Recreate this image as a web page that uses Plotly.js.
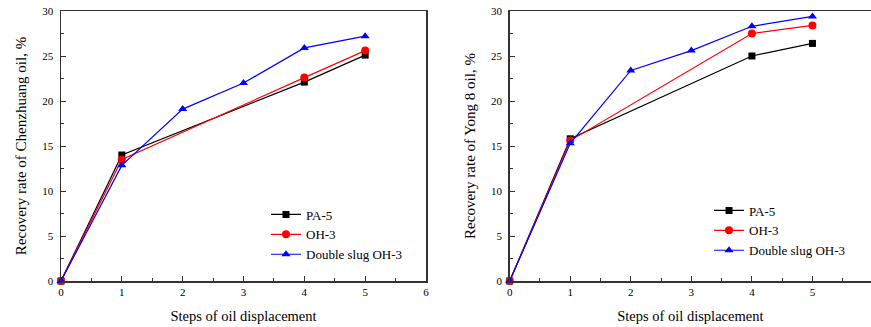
<!DOCTYPE html>
<html>
<head>
<meta charset="utf-8">
<script src="https://cdn.plot.ly/plotly-3.0.1.min.js"></script>
<style>html,body{margin:0;padding:0;background:#fff;}#chart{width:871px;height:327px;}</style>
</head>
<body>
<div id="chart"></div>
<script>
// Chenzhuang oil (left panel)
const stepsSparse = [0, 1, 4, 5];
const stepsFull = [0, 1, 2, 3, 4, 5];
const czPA5 = [0, 14.0, 22.1, 25.1];
const czOH3 = [0, 13.5, 22.6, 25.6];
const czDouble = [0, 12.85, 19.1, 22.0, 25.9, 27.2];
// Yong 8 oil (right panel)
const y8PA5 = [0, 15.8, 25.0, 26.4];
const y8OH3 = [0, 15.6, 27.5, 28.4];
const y8Double = [0, 15.3, 23.4, 25.6, 28.3, 29.4];
const seriesNames = ["PA-5", "OH-3", "Double slug OH-3"];
const xTicks = [0, 1, 2, 3, 4, 5, 6];
const yTicks = [0, 5, 10, 15, 20, 25, 30];

const colors = ["#000000", "#ff0000", "#0000ff"];
const symbols = ["square", "circle", "triangle-up"];
const sizes = [7, 8, 8];
const FONT = "Liberation Serif, Times New Roman, serif";

function mk(x, y, i, xa, ya, leg) {
  return {
    x: x, y: y, type: "scatter", mode: "lines+markers", name: seriesNames[i],
    xaxis: xa, yaxis: ya, legend: leg,
    line: {color: colors[i], width: 1.2},
    marker: {color: colors[i], symbol: symbols[i], size: sizes[i]},
    cliponaxis: false
  };
}

const data = [
  mk(stepsSparse, czPA5, 0, "x", "y", "legend"),
  mk(stepsSparse, czOH3, 1, "x", "y", "legend"),
  mk(stepsFull, czDouble, 2, "x", "y", "legend"),
  mk(stepsSparse, y8PA5, 0, "x2", "y2", "legend2"),
  mk(stepsSparse, y8OH3, 1, "x2", "y2", "legend2"),
  mk(stepsFull, y8Double, 2, "x2", "y2", "legend2")
];

function xax(domain, anchor, range) {
  return {
    domain: domain, anchor: anchor, range: range,
    tickvals: xTicks, ticktext: xTicks.map(String),
    ticks: "inside", ticklen: 5, tickwidth: 1, tickcolor: "#333",
    minor: {ticks: "inside", dtick: 0.5, tick0: 0, ticklen: 3, tickcolor: "#333", tickwidth: 1},
    showline: true, linecolor: "#333", linewidth: 1.5, mirror: true,
    showgrid: false, zeroline: false,
    tickfont: {family: FONT, size: 11, color: "#000"},
    title: {text: "Steps of oil displacement", font: {family: FONT, size: 14.5, color: "#000"}, standoff: 14}
  };
}
function yax(anchor, title) {
  return {
    anchor: anchor, domain: [0, 1], range: [0, 30],
    tickvals: yTicks, ticktext: yTicks.map(String),
    ticks: "inside", ticklen: 5, tickwidth: 1, tickcolor: "#333",
    minor: {ticks: "inside", dtick: 2.5, tick0: 0, ticklen: 3, tickcolor: "#333", tickwidth: 1},
    showline: true, linecolor: "#333", linewidth: 1.5, mirror: true,
    showgrid: false, zeroline: false,
    tickfont: {family: FONT, size: 11, color: "#000"},
    ticklabelstandoff: 4,
    title: {text: title, font: {family: FONT, size: 15, color: "#000"}, standoff: 12}
  };
}

const W = 871, L = 61, R = 0;
const pw = W - L - R;
const layout = {
  width: 871, height: 327,
  margin: {l: L, r: R, t: 11, b: 46},
  paper_bgcolor: "#fff", plot_bgcolor: "#fff",
  font: {family: FONT, color: "#000"},
  xaxis: xax([0, (426 - L) / pw], "y", [0, 6]),
  yaxis: yax("x", "Recovery rate of Chenzhuang oil, %"),
  xaxis2: xax([(509.7 - L) / pw, 1], "y2", [0, 5.967]),
  yaxis2: yax("x2", "Recovery rate of Yong 8 oil, %"),
  legend: {
    x: (266 - L) / pw, y: (281 - 199.5) / 270, xanchor: "left", yanchor: "top",
    xref: "paper", yref: "paper",
    bgcolor: "rgba(0,0,0,0)", borderwidth: 0,
    font: {family: FONT, size: 13, color: "#000"},
    itemwidth: 30, tracegroupgap: 0
  },
  legend2: {
    x: (709 - L) / pw, y: (281 - 195.5) / 270, xanchor: "left", yanchor: "top",
    xref: "paper", yref: "paper",
    bgcolor: "rgba(0,0,0,0)", borderwidth: 0,
    font: {family: FONT, size: 13, color: "#000"},
    itemwidth: 30, tracegroupgap: 0
  },
  showlegend: true
};

Plotly.newPlot("chart", data, layout, {displayModeBar: false, staticPlot: true});
</script>
</body>
</html>
